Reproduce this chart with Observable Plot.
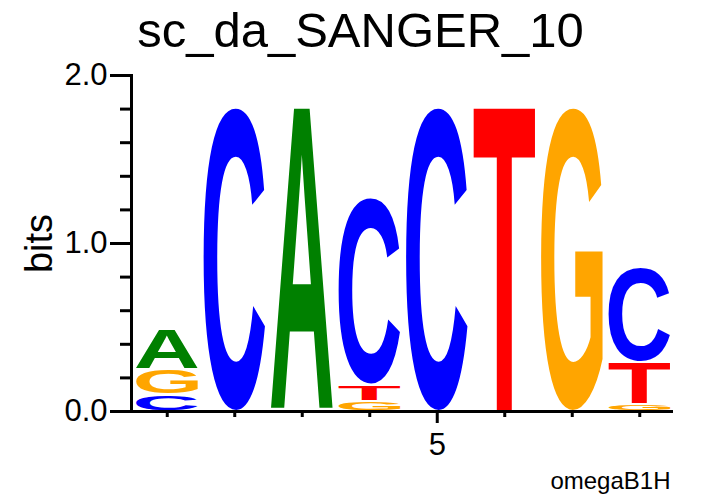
<!DOCTYPE html>
<html>
<head>
<meta charset="utf-8">
<script src="https://cdn.jsdelivr.net/npm/d3@7"></script>
<script src="https://cdn.jsdelivr.net/npm/@observablehq/plot@0.6"></script>
<style>
html, body { margin: 0; padding: 0; background: #fff; }
figure { margin: 0; padding: 0; width: 721px; }
figure h2 {
  margin: 0; padding: 0; height: 60px; line-height: 60px;
  font-family: "Liberation Sans", Arial, Helvetica, sans-serif;
  font-weight: normal; font-size: 49px; text-align: center; color: #000;
  width: 721px;
}
svg { display: block; }
</style>
</head>
<body>
<div id="chart"></div>
<script>
// ---- data ----
const title = "sc_da_SANGER_10";
const caption = "omegaB1H";
const yLabel = "bits";
const positions = [1, 2, 3, 4, 5, 6, 7, 8];
// letters per position, stacked bottom -> top
const stackLetters = [
  ["C", "G", "A"],
  ["C"],
  ["A"],
  ["G", "T", "C"],
  ["C"],
  ["T"],
  ["G"],
  ["G", "T", "C"]
];
// letter heights in bits (same order)
const stackBits = [
  [0.10, 0.15, 0.24],
  [1.81],
  [1.81],
  [0.06, 0.098, 1.116],
  [1.81],
  [1.81],
  [1.81],
  [0.042, 0.25, 0.571]
];
const bases = ["A", "C", "G", "T"];
const baseColors = ["#008000", "#0000ff", "#ffa500", "#ff0000"];
const yMajorTicks = [0, 1, 2];
const yMinorTicks = [0.2, 0.4, 0.6, 0.8, 1.2, 1.4, 1.6, 1.8];
const xLabeledTicks = [5];
const xPlainTicks = [1, 2, 3, 4, 6, 7, 8];

// ---- build stacked table ----
const rows = [];
positions.forEach((p, i) => {
  let acc = 0;
  stackLetters[i].forEach((b, j) => {
    const h = stackBits[i][j];
    rows.push({pos: p, base: b, lo: acc, hi: acc + h});
    acc += h;
  });
});

const FONT = '"Liberation Sans", Arial, Helvetica, sans-serif';
const FS = 200;
// tight glyph bounds by scanning rendered pixels (relative to origin at baseline-left)
const glyphCache = {};
function glyphBox(ch) {
  if (glyphCache[ch]) return glyphCache[ch];
  const W = 400, H = 400, ox = 100, oy = 300;
  const cv = document.createElement("canvas");
  cv.width = W; cv.height = H;
  const ctx = cv.getContext("2d");
  ctx.font = `bold ${FS}px ${FONT}`;
  ctx.textAlign = "left";
  ctx.textBaseline = "alphabetic";
  ctx.fillStyle = "#000";
  ctx.fillText(ch, ox, oy);
  const data = ctx.getImageData(0, 0, W, H).data;
  let x0 = W, x1 = -1, y0 = H, y1 = -1;
  for (let y = 0; y < H; y++) {
    for (let x = 0; x < W; x++) {
      if (data[(y * W + x) * 4 + 3] > 100) {
        if (x < x0) x0 = x; if (x > x1) x1 = x;
        if (y < y0) y0 = y; if (y > y1) y1 = y;
      }
    }
  }
  const box = {L: ox - x0, R: x1 + 1 - ox, A: oy - y0, D: y1 + 1 - oy};
  glyphCache[ch] = box;
  return box;
}

function renderLetters(index, scales, values) {
  const g = d3.create("svg:g").attr("aria-label", "logo letters");
  for (const i of index) {
    const xa = values.x1[i], xb = values.x2[i], ya = values.y1[i], yb = values.y2[i];
    const left = Math.min(xa, xb), w = Math.abs(xb - xa);
    const top = Math.min(ya, yb) + 1, h = Math.abs(yb - ya) - 2;
    if (!(h > 0)) continue;
    const ch = rows[i].base;
    const b = glyphBox(ch);
    const sx = w / (b.L + b.R), sy = h / (b.A + b.D);
    g.append("text")
      .attr("transform", `translate(${left + b.L * sx},${top + b.A * sy}) scale(${sx},${sy})`)
      .attr("font-family", FONT)
      .attr("font-weight", "bold")
      .attr("font-size", FS)
      .attr("text-anchor", "start")
      .attr("fill", values.fill[i])
      .text(ch);
  }
  return g.node();
}

const blank = () => "";

const chart = Plot.plot({
  title: title,
  width: 721,
  height: 436,
  marginLeft: 131,
  insetLeft: 2,
  marginRight: 48,
  marginTop: 15,
  marginBottom: 85,
  style: {fontFamily: FONT, color: "#000", background: "#fff", overflow: "visible"},
  x: {domain: [0.5, 8.5], axis: null},
  y: {domain: [0, 2], axis: null},
  color: {domain: bases, range: baseColors},
  marks: [
    Plot.rect(rows, {
      x1: d => d.pos - 0.455, x2: d => d.pos + 0.455,
      y1: "lo", y2: "hi", fill: "base",
      render: renderLetters
    }),
    // y axis
    Plot.axisY(yMajorTicks, {anchor: "left", tickSize: 21, tickPadding: 3, strokeWidth: 3,
      fontSize: 31, tickFormat: d3.format(".1f"), label: null}),
    Plot.axisY(yMinorTicks, {anchor: "left", tickSize: 11, strokeWidth: 3, tickFormat: blank, label: null}),
    Plot.frame({anchor: "left", strokeWidth: 3}),
    // x axis
    Plot.ruleY([0], {strokeWidth: 3}),
    Plot.axisX(xPlainTicks, {anchor: "bottom", tickSize: 6, strokeWidth: 3, tickFormat: blank, label: null}),
    Plot.axisX(xLabeledTicks, {anchor: "bottom", tickSize: 12, tickPadding: 9, strokeWidth: 3,
      fontSize: 31, tickFormat: d3.format("d"), label: null}),
    // labels
    Plot.text([yLabel], {frameAnchor: "left", rotate: -90, dx: -80, fontSize: 38,
      textAnchor: "middle", lineAnchor: "bottom", fill: "#000"}),
    Plot.text([caption], {frameAnchor: "bottom-right", dx: -3, dy: 77, fontSize: 24,
      textAnchor: "end", lineAnchor: "bottom", fill: "#000"})
  ]
});
document.getElementById("chart").appendChild(chart);
</script>
</body>
</html>
